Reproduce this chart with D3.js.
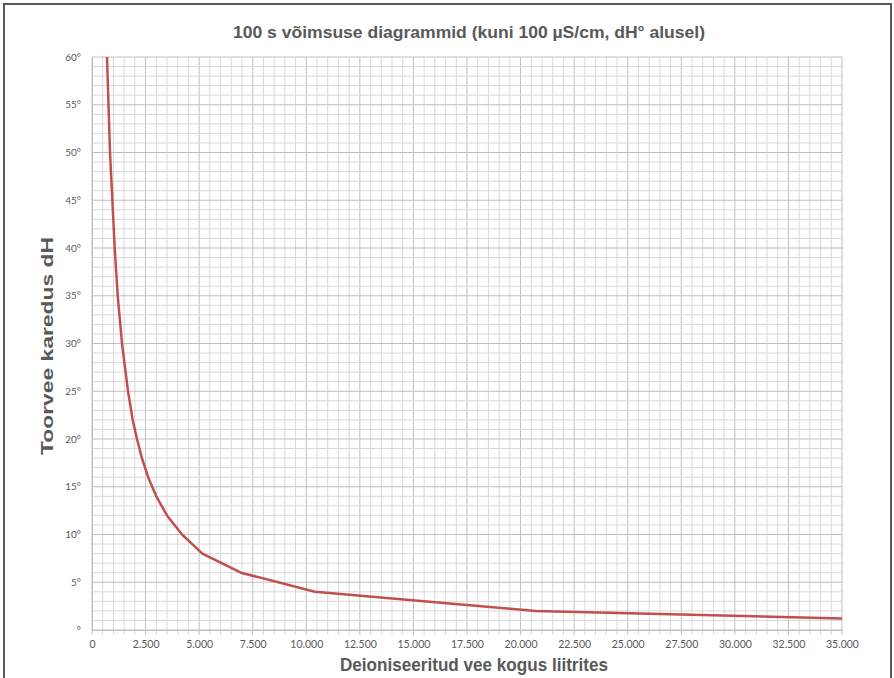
<!DOCTYPE html>
<html>
<head>
<meta charset="utf-8">
<script src="https://cdn.jsdelivr.net/npm/d3@7"></script>
<style>
  html, body { margin: 0; padding: 0; background: #fff; }
  svg { display: block; }
</style>
</head>
<body>
<svg id="chart" width="894" height="678"></svg>
<script>
// Data
const liters = [700, 840, 950, 1060, 1200, 1400, 1680, 1900, 2100, 2330, 2620, 3000, 3500, 4200, 5150, 6950, 10400, 20700, 35000];
const hardness = [60, 50, 45, 40, 35, 30, 25, 22, 20, 18, 16, 14, 12, 10, 8, 6, 4, 2, 1.2];
const xTicks = [0, 2500, 5000, 7500, 10000, 12500, 15000, 17500, 20000, 22500, 25000, 27500, 30000, 32500, 35000];
const xTickLabels = ["0", "2.500", "5.000", "7.500", "10.000", "12.500", "15.000", "17.500", "20.000", "22.500", "25.000", "27.500", "30.000", "32.500", "35.000"];
const yTicks = [0, 5, 10, 15, 20, 25, 30, 35, 40, 45, 50, 55, 60];
const yTickLabels = ["°", "5°", "10°", "15°", "20°", "25°", "30°", "35°", "40°", "45°", "50°", "55°", "60°"];
const title = "100 s võimsuse diagrammid (kuni 100 µS/cm, dH° alusel)";
const xTitle = "Deioniseeritud vee kogus liitrites";
const yTitle = "Toorvee karedus dH";

(function () {
const svg = d3.select("#chart");
const pLeft = 92, pRight = 842, pTop = 57, pBottom = 630;

const x = d3.scaleLinear().domain([0, 35000]).range([pLeft, pRight]);
const y = d3.scaleLinear().domain([0, 60]).range([pBottom, pTop]);

// outer border
svg.append("rect").attr("x", 4).attr("y", 4).attr("width", 887).attr("height", 700)
  .attr("fill", "none").attr("stroke", "#595959").attr("stroke-width", 2);

const grid = svg.append("g");
const minorX = d3.range(0, 35001, 500);
grid.selectAll("line.vx").data(minorX).enter().append("line")
  .attr("x1", d => x(d)).attr("x2", d => x(d))
  .attr("y1", pTop).attr("y2", pBottom + 5)
  .attr("stroke", d => d % 2500 === 0 ? "#bfbfbf" : "#d9d9d9")
  .attr("stroke-width", 1);
const minorY = d3.range(0, 61, 1);
grid.selectAll("line.hy").data(minorY).enter().append("line")
  .attr("x1", pLeft).attr("x2", pRight)
  .attr("y1", d => y(d)).attr("y2", d => y(d))
  .attr("stroke", d => d % 5 === 0 ? "#bfbfbf" : "#d9d9d9")
  .attr("stroke-width", 1);

const xAxis = d3.axisBottom(x).tickValues(xTicks).tickSize(0)
  .tickFormat((d, i) => xTickLabels[i]);
const gx = svg.append("g").attr("transform", `translate(0,${pBottom})`).call(xAxis);
gx.select(".domain").attr("stroke", "#bfbfbf");
gx.selectAll("text").attr("y", 8).attr("dy", "0.95em").attr("font-family", "Lato, 'Open Sans', sans-serif")
  .attr("font-size", 10.5).attr("fill", "#595959");

const yAxis = d3.axisLeft(y).tickValues(yTicks).tickSize(0)
  .tickFormat((d, i) => yTickLabels[i]);
const gy = svg.append("g").attr("transform", `translate(${pLeft},0)`).call(yAxis);
gy.select(".domain").attr("stroke", "#bfbfbf");
gy.selectAll("text").attr("x", -11).attr("font-family", "Lato, 'Open Sans', sans-serif")
  .attr("font-size", 10).attr("fill", "#595959");

const line = d3.line().x((d, i) => x(liters[i])).y((d, i) => y(hardness[i]));
svg.append("path").datum(hardness)
  .attr("d", line)
  .attr("fill", "none").attr("stroke", "#c0504d").attr("stroke-width", 2.5)
  .attr("stroke-linejoin", "round");

svg.append("text").attr("x", 469).attr("y", 38).attr("text-anchor", "middle")
  .attr("font-family", "'Liberation Sans', Arial, sans-serif").attr("font-weight", "bold")
  .attr("font-size", 16.5).attr("textLength", 472).attr("lengthAdjust", "spacingAndGlyphs")
  .attr("fill", "#595959").text(title);

svg.append("text").attr("x", 474).attr("y", 671).attr("text-anchor", "middle")
  .attr("font-family", "'Liberation Sans', Arial, sans-serif").attr("font-weight", "bold")
  .attr("font-size", 18).attr("textLength", 268).attr("lengthAdjust", "spacingAndGlyphs")
  .attr("fill", "#595959").text(xTitle);

svg.append("text").attr("transform", "translate(53,346) rotate(-90)").attr("text-anchor", "middle")
  .attr("font-family", "'Liberation Sans', Arial, sans-serif").attr("font-weight", "bold")
  .attr("font-size", 16.5).attr("textLength", 218).attr("lengthAdjust", "spacingAndGlyphs")
  .attr("fill", "#595959").text(yTitle);
})();
</script>
</body>
</html>
